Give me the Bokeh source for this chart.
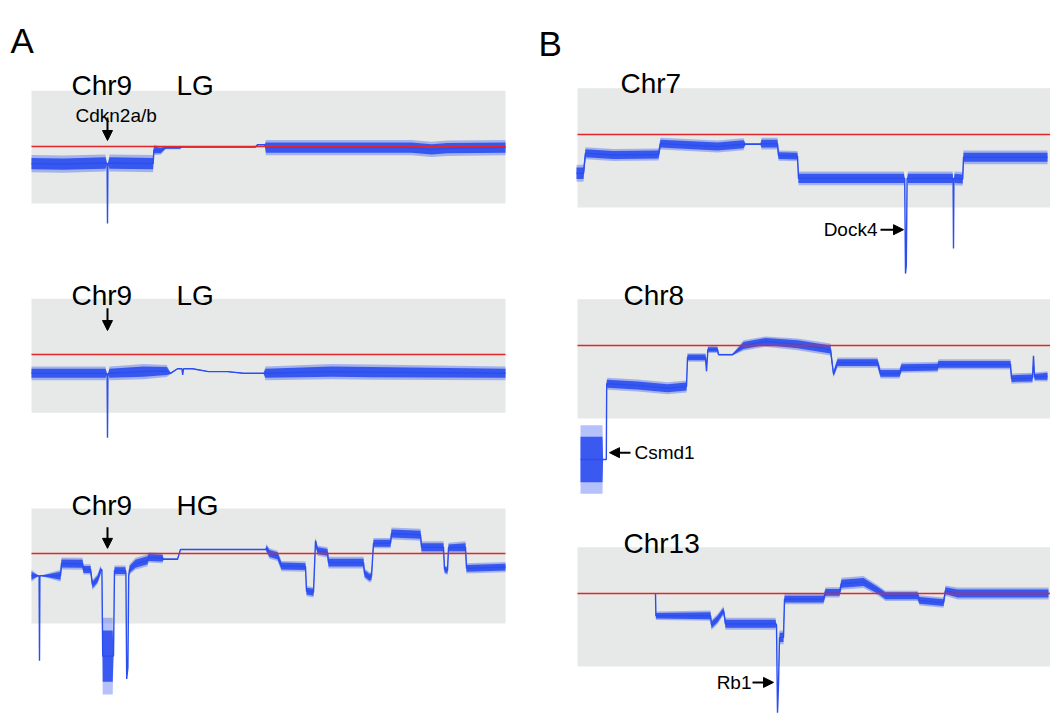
import numpy as np
from bokeh.plotting import figure
from bokeh.models import Range1d, Arrow, NormalHead
from bokeh.layouts import row
from bokeh.embed import file_html
from bokeh.resources import INLINE
from bokeh.core.properties import value

# ---------------- data (position in Mb, log2 ratio) ----------------
A1_pos = [0, 8, 18.5, 18.9, 19.0, 19.1, 19.5, 30.4, 30.6, 32.3, 33.5, 37.2, 37.5, 56, 56.5, 58.3, 58.6, 95, 100, 104, 118.5]
A1_mid = [-0.30, -0.31, -0.29, -0.30, -1.35, -0.30, -0.29, -0.30, -0.06, -0.07, -0.02, -0.02, -0.01, -0.01, 0.03, 0.03, -0.02, -0.02, -0.05, -0.03, -0.02]
A1_spread = [0.10, 0.10, 0.10, 0, 0, 0, 0.10, 0.10, 0.06, 0.05, 0.02, 0.02, 0.005, 0.005, 0.005, 0.005, 0.09, 0.09, 0.09, 0.09, 0.09]

A2_pos = [0, 18.5, 18.9, 19.0, 19.1, 19.5, 28, 33.8, 34.75, 36.5, 37.6, 37.8, 38.0, 40.25, 44.25, 49, 53, 58, 58.5, 75, 85, 118.5]
A2_mid = [-0.33, -0.33, -0.34, -1.46, -0.34, -0.33, -0.30, -0.29, -0.33, -0.25, -0.25, -0.36, -0.25, -0.25, -0.30, -0.30, -0.33, -0.33, -0.33, -0.30, -0.31, -0.33]
A2_spread = [0.08, 0.08, 0, 0, 0, 0.08, 0.09, 0.07, 0.01, 0.005, 0.005, 0, 0.005, 0.005, 0.005, 0.005, 0.005, 0.005, 0.08, 0.09, 0.09, 0.08]

A3_pos = [0, 1.9, 2.0, 2.1, 7.25, 7.5, 12.75, 13.0, 14.75, 15.25, 16.5, 17.25, 17.6, 17.8, 18.0, 20.3, 20.5, 20.75, 23.5, 23.6, 23.8, 24.1, 24.3, 24.5, 26, 29,
          29.25, 32.75, 33, 36.5, 37.25, 58.5, 58.75, 59.5, 61.5, 62.5, 68.5, 68.75, 70.5, 71.0, 71.5, 74, 74.25, 83, 83.25, 84.5, 85, 85.5, 89.75,
          90, 97.25, 97.5, 103, 103.25, 104, 104.25, 108.5, 108.75, 118.5]
A3_mid = [-0.39, -0.39, -1.88, -0.39, -0.39, -0.175, -0.18, -0.28, -0.28, -0.55, -0.45, -0.30, -0.28, -1.80, -1.80, -1.80, -1.80, -0.30, -0.30, -0.35, -2.20, -2.00, -0.40, -0.28, -0.18, -0.12,
          -0.07, -0.08, -0.10, -0.10, 0.07, 0.07, 0.09, 0.0, -0.04, -0.22, -0.23, -0.66, -0.68, 0.22, 0.05, 0.02, -0.16, -0.16, -0.35, -0.42, -0.40, 0.18, 0.18,
          0.35, 0.33, 0.11, 0.11, -0.28, -0.30, 0.10, 0.11, -0.26, -0.24]
A3_spread = [0.07, 0, 0, 0, 0.07, 0.07, 0.07, 0.06, 0.06, 0.06, 0.06, 0.06, 0, 0.45, 0.45, 0.45, 0, 0.06, 0.06, 0, 0, 0, 0, 0.06, 0.07, 0.07,
             0.06, 0.06, 0.01, 0.01, 0.005, 0.005, 0.05, 0.06, 0.06, 0.06, 0.06, 0.06, 0.06, 0.04, 0.06, 0.06, 0.07, 0.07, 0.06, 0.06, 0.06, 0.06, 0.06,
             0.07, 0.07, 0.07, 0.07, 0.05, 0.05, 0.06, 0.07, 0.06, 0.06]

B1_pos = [-0.25, 1.5, 2.0, 9, 20.25, 20.75, 35, 40, 41.5, 42, 45.75, 46, 50, 50.25, 55, 55.25, 81.6, 81.8, 82.0, 82.2, 82.4, 82.6, 93.8, 93.9, 94.0, 94.1, 94.3, 96.3, 96.5, 117.5]
B1_mid = [-0.68, -0.68, -0.33, -0.36, -0.35, -0.16, -0.21, -0.18, -0.17, -0.17, -0.17, -0.16, -0.16, -0.37, -0.38, -0.77, -0.77, -0.77, -2.44, -2.30, -0.77, -0.77, -0.77, -0.77, -2.00, -0.77, -0.77, -0.78, -0.40, -0.40]
B1_spread = [0.10, 0.10, 0.07, 0.07, 0.07, 0.07, 0.07, 0.07, 0.07, 0.01, 0.01, 0.07, 0.07, 0.06, 0.06, 0.08, 0.08, 0, 0, 0, 0, 0.08, 0.08, 0, 0, 0, 0.08, 0.08, 0.08, 0.08]

B2_pos = [0.75, 6.25, 6.4, 7.2, 7.3, 7.5, 15, 22.5, 27.25, 27.5, 32, 32.25, 32.6, 35, 35.25, 38.75, 41.5, 47, 55, 63.25, 64, 65, 75, 75.75, 80.5,
          81, 90, 90.25, 108.25, 108.5, 113.75, 114, 114.25, 117.5]
B2_mid = [-2.00, -2.00, -2.00, -2.00, -0.67, -0.67, -0.70, -0.75, -0.72, -0.21, -0.21, -0.45, -0.07, -0.07, -0.16, -0.16, 0.0, 0.07, 0.02, -0.07, -0.50, -0.30, -0.30, -0.49, -0.49,
          -0.39, -0.38, -0.33, -0.33, -0.58, -0.57, -0.18, -0.55, -0.54]
B2_spread = [0.40, 0.40, 0, 0, 0.05, 0.07, 0.07, 0.07, 0.07, 0.05, 0.05, 0.02, 0.04, 0.04, 0.01, 0.01, 0.06, 0.06, 0.07, 0.07, 0.04, 0.06, 0.06, 0.06, 0.06,
             0.06, 0.06, 0.06, 0.06, 0.06, 0.06, 0, 0.05, 0.06]

B3_pos = [19.5, 19.6, 33.25, 33.5, 35, 36.5, 37, 49.5, 49.75, 50.0, 50.25, 50.5, 51.5, 51.75, 61.5, 62, 65.5, 66, 71.5, 75, 77, 85, 85.5, 91.5, 92, 95, 117.75]
B3_mid = [0.0, -0.39, -0.39, -0.55, -0.45, -0.30, -0.53, -0.53, -0.55, -2.09, -1.60, -0.77, -0.77, -0.10, -0.10, 0.02, 0.02, 0.17, 0.20, 0.06, -0.04, -0.04, -0.12, -0.16, 0.05, 0.0, 0.0]
B3_spread = [0, 0.05, 0.06, 0.06, 0.06, 0.05, 0.07, 0.07, 0, 0, 0, 0.08, 0.08, 0.06, 0.06, 0.06, 0.06, 0.07, 0.07, 0.06, 0.06, 0.06, 0.06, 0.06, 0.06, 0.07, 0.07]

panel_ids = ["A1", "A2", "A3", "B1", "B2", "B3"]
panel_chrom = ["Chr9", "Chr9", "Chr9", "Chr7", "Chr8", "Chr13"]
panel_grade = ["LG", "LG", "HG", "", "", ""]
panel_box_lo = [-1.0, -1.02, -1.23, -1.28, -1.28, -1.28]
panel_box_hi = [0.98, 0.98, 0.79, 0.81, 0.81, 0.81]
panel_box_end = [118.5, 118.5, 118.5, 118.5, 118.5, 118.5]

gene_names = ["Cdkn2a/b", "Dock4", "Csmd1", "Rb1"]
gene_panel = ["A1", "B1", "B2", "B3"]

# ---------------- layout (page pixels) ----------------
PX_PER_MB = 4.0
PX_PER_UNIT = 57.0
PAGE_TOP, PAGE_BOTTOM = 0, 723
COL = {"A": dict(left=0, right=530, x0=31), "B": dict(left=530, right=1050, x0=577)}
RED_PX = {"A1": 146, "A2": 354, "A3": 553, "B1": 134, "B2": 345, "B3": 593}
TITLE_POS = {"A1": (10, 1.07), "A2": (10, 1.035), "A3": (10, 0.84),
             "B1": (10.75, 0.895), "B2": (11.5, 0.877), "B3": (11.5, 0.877)}
GRADE_X = 36.25

BLUE = "#2b4ef0"
RED = "#e3262b"
BOX = "#e6e9e7"
FONT = value("Liberation Sans")

data = {
    "A1": (A1_pos, A1_mid, A1_spread), "A2": (A2_pos, A2_mid, A2_spread), "A3": (A3_pos, A3_mid, A3_spread),
    "B1": (B1_pos, B1_mid, B1_spread), "B2": (B2_pos, B2_mid, B2_spread), "B3": (B3_pos, B3_mid, B3_spread),
}


def yrange(pid):
    r = RED_PX[pid]
    return Range1d(start=(r - PAGE_BOTTOM) / PX_PER_UNIT, end=(r - PAGE_TOP) / PX_PER_UNIT)


def make_col(c):
    info = COL[c]
    w = info["right"] - info["left"]
    h = PAGE_BOTTOM - PAGE_TOP
    xr = Range1d(start=(info["left"] - info["x0"]) / PX_PER_MB, end=(info["right"] - info["x0"]) / PX_PER_MB)
    ids = [p for p in panel_ids if p.startswith(c)]
    p = figure(width=w, height=h, x_range=xr, y_range=yrange(ids[0]), output_backend="svg",
               toolbar_location=None, x_axis_location=None, y_axis_location=None, min_border=0)
    p.extra_y_ranges = {pid: yrange(pid) for pid in ids[1:]}
    p.grid.visible = False
    p.outline_line_color = None
    p.background_fill_color = "white"
    p.border_fill_color = "white"
    return p, ids


cols = {}
for c in ["A", "B"]:
    p, ids = make_col(c)
    cols[c] = p
    for pid in ids:
        k = panel_ids.index(pid)
        rn = "default" if pid == ids[0] else pid
        pos, mid, spr = data[pid]
        mid = np.array(mid)
        spr = np.array(spr)
        p.quad(left=[0], right=[panel_box_end[k]], bottom=[panel_box_lo[k]], top=[panel_box_hi[k]],
               fill_color=BOX, line_color=None, y_range_name=rn)
        p.varea(x=pos, y1=mid - spr * 1.5, y2=mid + spr * 1.5, fill_color=BLUE, fill_alpha=0.35, y_range_name=rn)
        p.varea(x=pos, y1=mid - spr, y2=mid + spr, fill_color=BLUE, fill_alpha=0.9, y_range_name=rn)
        p.line(x=pos, y=mid, line_color=BLUE, line_width=1.4, y_range_name=rn)
        p.line(x=[0, panel_box_end[k]], y=[0, 0], line_color=RED, line_width=1.6, y_range_name=rn)
        tx, ty = TITLE_POS[pid]
        p.text(x=[tx], y=[ty], text=[panel_chrom[k]], text_font=FONT, text_font_size="28px",
               text_color="black", text_baseline="alphabetic", text_align="left", y_range_name=rn)
        if panel_grade[k]:
            p.text(x=[GRADE_X], y=[ty], text=[panel_grade[k]], text_font=FONT, text_font_size="28px",
                   text_color="black", text_baseline="alphabetic", text_align="left", y_range_name=rn)

pA, pB = cols["A"], cols["B"]

# panel letters
pA.text(x=[-5.25], y=[1.86], text=["A"], text_font=FONT, text_font_size="35px", text_baseline="alphabetic")
pB.text(x=[-9.75], y=[1.60], text=["B"], text_font=FONT, text_font_size="35px", text_baseline="alphabetic")


def arrow(p, x0, y0, x1, y1, rn):
    p.add_layout(Arrow(end=NormalHead(size=10, fill_color="black", line_color="black"),
                       x_start=x0, y_start=y0, x_end=x1, y_end=y1, line_width=2, line_color="black",
                       y_range_name=rn))


# Cdkn2a/b locus arrows (chr9)
arrow(pA, 19, 0.51, 19, 0.105, "default")
arrow(pA, 19, 0.81, 19, 0.42, "A2")
arrow(pA, 19, 0.46, 19, 0.09, "A3")
pA.text(x=[11], y=[0.54], text=[gene_names[0]], text_font=FONT, text_font_size="19px", text_baseline="alphabetic")

# Dock4
arrow(pB, 75.75, -1.67, 81.5, -1.67, "default")
pB.text(x=[75], y=[-1.67], text=[gene_names[1]], text_font=FONT, text_font_size="19px",
        text_baseline="middle", text_align="right")
# Csmd1
arrow(pB, 13.25, -1.88, 8.0, -1.88, "B2")
pB.text(x=[14.25], y=[-1.88], text=[gene_names[2]], text_font=FONT, text_font_size="19px",
        text_baseline="middle", text_align="left", y_range_name="B2")
# Rb1
arrow(pB, 43.75, -1.56, 49.0, -1.56, "B3")
pB.text(x=[43.5], y=[-1.56], text=[gene_names[3]], text_font=FONT, text_font_size="19px",
        text_baseline="middle", text_align="right", y_range_name="B3")

layout = row(pA, pB)
open("out.html", "w").write(file_html(layout, INLINE))
